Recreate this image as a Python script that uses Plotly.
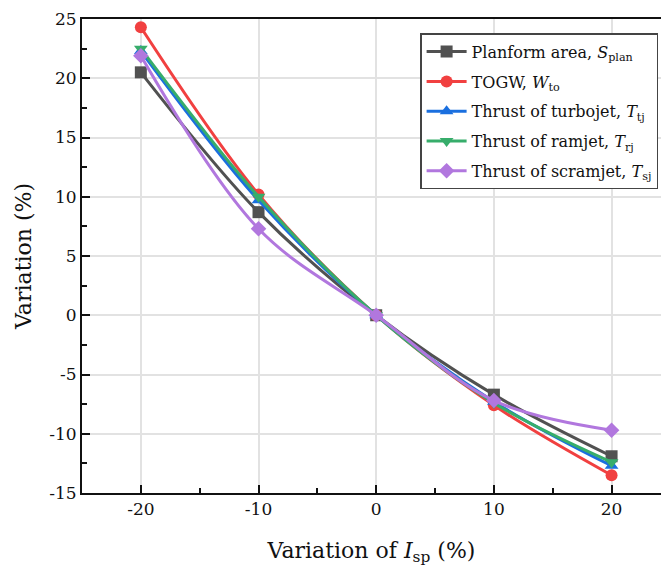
import plotly.graph_objects as go

x_vals = [-20, -10, 0, 10, 20]
x_ticktext = ["-20", "-10", "0", "10", "20"]
y_tickvals = [-15, -10, -5, 0, 5, 10, 15, 20, 25]
y_ticktext = ["-15", "-10", "-5", "0", "5", "10", "15", "20", "25"]
planform = [20.5, 8.7, 0.0, -6.7, -11.9]
togw = [24.3, 10.2, 0.0, -7.6, -13.5]
turbojet = [22.3, 9.7, 0.0, -7.3, -12.7]
ramjet = [22.5, 10.0, 0.0, -7.4, -12.4]
scramjet = [21.9, 7.3, 0.0, -7.2, -9.7]

names = ["Planform area, <i>S</i><sub>plan</sub>",
         "TOGW, <i>W</i><sub>to</sub>",
         "Thrust of turbojet, <i>T</i><sub>tj</sub>",
         "Thrust of ramjet, <i>T</i><sub>rj</sub>",
         "Thrust of scramjet, <i>T</i><sub>sj</sub>"]
series = [planform, togw, turbojet, ramjet, scramjet]
colors = ["#515151", "#F14040", "#1A6FDF", "#37AD6B", "#B177DE"]
symbols = ["square", "circle", "triangle-up", "triangle-down", "diamond"]

fig = go.Figure()
for i, (n, s, c, m) in enumerate(zip(names, series, colors, symbols)):
    fig.add_trace(go.Scatter(
        x=x_vals, y=s, name=n, mode="lines+markers", legendgroup=f"g{i}",
        line=dict(color=c, width=3, shape="spline", smoothing=1),
        marker=dict(symbol=m, size=12, color=c),
    ))

font_family = "DejaVu Serif"
fig.update_layout(
    width=661, height=575,
    margin=dict(l=82, r=0, t=19, b=82, autoexpand=False),
    plot_bgcolor="white", paper_bgcolor="white",
    font=dict(family=font_family, size=16, color="#222"),
    showlegend=True,
    legend=dict(x=0.995, y=0.97, xanchor="right", yanchor="top",
                bordercolor="#444", borderwidth=1.5, bgcolor="white",
                font=dict(size=16, family=font_family, color="#111"),
                tracegroupgap=6, itemwidth=40),
)
fig.update_xaxes(
    range=[-25, 24.2], tickvals=x_vals, ticktext=x_ticktext,
    ticks="inside", ticklen=8, tickwidth=2, tickcolor="#111",
    minor=dict(tickvals=[-25, -15, -5, 5, 15], ticks="inside", ticklen=5, tickwidth=2, tickcolor="#111", showgrid=False),
    showline=True, linecolor="#111", linewidth=2, mirror=True,
    showgrid=True, gridcolor="#e2e2e2", gridwidth=1.5, zeroline=False,
    tickfont=dict(size=17, family=font_family, color="#111"),
    title=dict(text="Variation of <i>I</i><sub>sp</sub> (%)", font=dict(size=22, family=font_family, color="#111"), standoff=24),
)
fig.update_yaxes(
    range=[-15, 25], tickvals=y_tickvals, ticktext=y_ticktext,
    ticks="inside", ticklen=8, tickwidth=2, tickcolor="#111",
    minor=dict(tickvals=[-12.5, -7.5, -2.5, 2.5, 7.5, 12.5, 17.5, 22.5], ticks="inside", ticklen=5, tickwidth=2, tickcolor="#111", showgrid=False),
    showline=True, linecolor="#111", linewidth=2, mirror=False,
    showgrid=True, gridcolor="#e2e2e2", gridwidth=1.5, zeroline=False,
    tickfont=dict(size=17, family=font_family, color="#111"),
    title=dict(text="Variation (%)", font=dict(size=22, family=font_family, color="#111"), standoff=12),
)
fig.write_html("out.html")
